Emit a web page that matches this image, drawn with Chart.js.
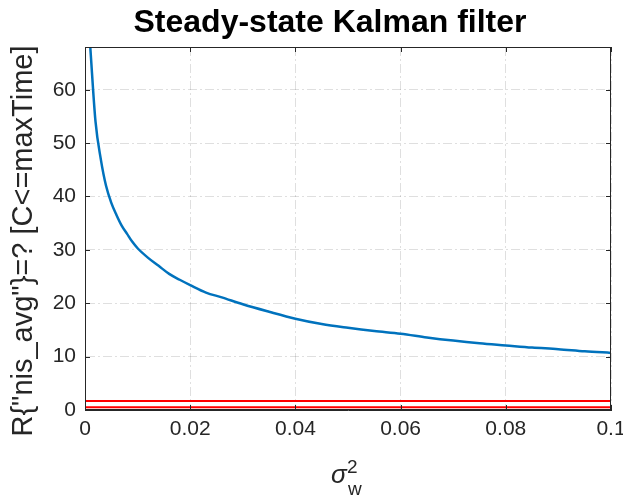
<!DOCTYPE html>
<html><head><meta charset="utf-8">
<script src="https://cdn.jsdelivr.net/npm/chart.js@4/dist/chart.umd.min.js"></script>
<style>html,body{margin:0;padding:0;background:#fff;}#wrap{width:623px;height:496px;}</style>
</head><body><div id="wrap"><canvas id="c" width="623" height="496"></canvas></div>
<script>
// Data
const sigmaW2 = [0.001, 0.002, 0.003, 0.004, 0.005, 0.006, 0.007, 0.008, 0.009, 0.010,
                 0.012, 0.014, 0.016, 0.018, 0.020, 0.023, 0.026, 0.030, 0.035, 0.040,
                 0.045, 0.050, 0.055, 0.060, 0.065, 0.070, 0.075, 0.080, 0.085, 0.090,
                 0.095, 0.100];
const nisAvg = [68.0, 54.0, 47.0, 42.0, 38.8, 36.5, 34.5, 33.0, 31.5, 30.3,
                28.5, 27.0, 25.5, 24.4, 23.4, 22.0, 21.1, 19.8, 18.4, 17.1,
                16.1, 15.4, 14.8, 14.3, 13.6, 13.0, 12.5, 12.1, 11.7, 11.4,
                11.0, 10.7];
const boundX = [0, 0.1];
const upperBound = [1.68, 1.68];
const lowerBound = [0.52, 0.52];
const xTicks = [0, 0.02, 0.04, 0.06, 0.08, 0.1];
const yTicks = [0, 10, 20, 30, 40, 50, 60];
const titleText = 'Steady-state Kalman filter';
const yLabelText = 'R{"nis_avg"}=? [C<=maxTime]';

const toPts = (xs, ys) => xs.map((x, i) => ({x: x, y: ys[i]}));
const AX = '#262626';
const GRID = 'rgba(38,38,38,0.15)';
const FONT = '"Liberation Sans", Arial, Helvetica, sans-serif';

const decor = {
  id: 'decor',
  afterDraw(chart) {
    const ctx = chart.ctx, a = chart.chartArea;
    const xs = chart.scales.x, ys = chart.scales.y;
    ctx.save();
    // box
    ctx.strokeStyle = AX; ctx.lineWidth = 1;
    ctx.strokeRect(Math.round(a.left) + 0.5, Math.round(a.top) + 0.5,
                   Math.round(a.right - a.left) - 1, Math.round(a.bottom - a.top) - 1);
    // inward ticks
    ctx.beginPath();
    xs.ticks.forEach(t => {
      const p = Math.round(xs.getPixelForValue(t.value)) + 0.5;
      ctx.moveTo(p, a.bottom); ctx.lineTo(p, a.bottom - 5);
      ctx.moveTo(p, a.top); ctx.lineTo(p, a.top + 5);
    });
    ys.ticks.forEach(t => {
      const p = Math.round(ys.getPixelForValue(t.value)) + 0.5;
      ctx.moveTo(a.left, p); ctx.lineTo(a.left + 5, p);
      ctx.moveTo(a.right, p); ctx.lineTo(a.right - 5, p);
    });
    ctx.stroke();
    // title
    ctx.fillStyle = '#000';
    ctx.font = 'bold 32px ' + FONT;
    ctx.textAlign = 'center'; ctx.textBaseline = 'alphabetic';
    ctx.fillText(titleText, 330, 32);
    // y label
    ctx.save();
    ctx.translate(24, 241);
    ctx.rotate(-Math.PI / 2);
    ctx.font = '29px ' + FONT;
    ctx.fillStyle = AX;
    ctx.textAlign = 'center'; ctx.textBaseline = 'middle';
    ctx.fillText(yLabelText, 0, 0);
    ctx.restore();
    // x label: sigma_w^2
    ctx.fillStyle = AX;
    ctx.textAlign = 'left'; ctx.textBaseline = 'alphabetic';
    ctx.font = 'italic 26px ' + FONT;
    ctx.fillText('\u03C3', 331, 483);
    ctx.font = '19px ' + FONT;
    ctx.fillText('2', 347, 473);
    ctx.fillText('w', 348, 495);
    ctx.restore();
  }
};

new Chart(document.getElementById('c'), {
  type: 'scatter',
  data: {
    datasets: [
      {data: toPts(boundX, upperBound), showLine: true, borderColor: '#ff0000', borderWidth: 2, pointRadius: 0},
      {data: toPts(boundX, lowerBound), showLine: true, borderColor: '#ff0000', borderWidth: 2, pointRadius: 0},
      {data: toPts(sigmaW2, nisAvg), showLine: true, borderColor: '#0072bd', borderWidth: 2.5, pointRadius: 0,
       cubicInterpolationMode: 'monotone'}
    ]
  },
  options: {
    responsive: false,
    animation: false,
    devicePixelRatio: 1,
    layout: {padding: {top: 47, right: 12, left: 0, bottom: 0}},
    plugins: {legend: {display: false}, tooltip: {enabled: false}, title: {display: false}},
    scales: {
      x: {
        type: 'linear', min: 0, max: 0.1,
        afterBuildTicks: s => { s.ticks = xTicks.map(v => ({value: v})); },
        afterFit: s => { s.height = 86; s.paddingLeft = 0; s.paddingRight = 0; },
        ticks: {color: AX, font: {family: FONT, size: 21}, padding: 7,
                maxRotation: 0, autoSkip: false,
                callback: v => String(Number(v.toFixed(3)))},
        grid: {color: GRID, drawTicks: false, lineWidth: 1},
        border: {color: AX, width: 1, dash: [9, 3, 2, 3]}
      },
      y: {
        type: 'linear', min: 0, max: 68,
        afterBuildTicks: s => { s.ticks = yTicks.map(v => ({value: v})); },
        afterFit: s => { s.width = 85; s.paddingTop = 0; s.paddingBottom = 0; },
        ticks: {color: AX, font: {family: FONT, size: 21}, padding: 9, autoSkip: false},
        grid: {color: GRID, drawTicks: false, lineWidth: 1},
        border: {color: AX, width: 1, dash: [9, 3, 2, 3]}
      }
    }
  },
  plugins: [decor]
});
</script></body></html>
